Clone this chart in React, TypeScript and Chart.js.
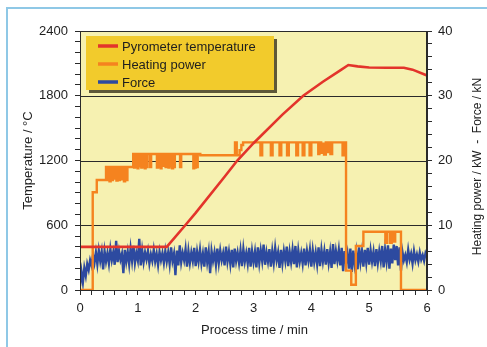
import React, { useEffect, useRef } from 'react';
import { Chart, registerables } from 'chart.js';

Chart.register(...registerables);

// ---- Data ----
const pyroTime = [0, 1.5, 1.82, 2.0, 2.5, 2.72, 3.0, 3.5, 3.86, 4.2, 4.5, 4.64, 4.8, 5.0, 5.3, 5.6, 5.75, 6.0];
const pyroTemp = [400, 400, 600, 715, 1050, 1200, 1360, 1625, 1800, 1930, 2035, 2085, 2072, 2062, 2060, 2060, 2042, 1988];

const heatTime = [
  0, 0.22, 0.29, 0.45, 0.47, 0.49, 0.51, 0.53, 0.55, 0.57, 0.59, 0.61, 0.63, 0.65, 0.67, 0.69,
  0.71, 0.73, 0.76, 0.78, 0.8, 0.82,
  0.92, 0.935, 0.95, 0.965, 0.98, 0.995, 1.01, 1.03, 1.045, 1.06, 1.075, 1.09, 1.105, 1.12, 1.135, 1.15,
  1.165, 1.21, 1.23, 1.33, 1.35, 1.365, 1.38, 1.395, 1.41, 1.425, 1.44, 1.48, 1.5, 1.53, 1.545, 1.56,
  1.575, 1.59, 1.61, 1.625, 1.64, 1.73, 1.75, 1.96, 1.975, 1.99, 2.005, 2.02, 2.035, 2.08,
  2.68, 2.71, 2.76, 2.79, 2.82, 3.12, 3.15, 3.3, 3.33, 3.45, 3.48, 3.58, 3.61, 3.74, 3.77, 3.85,
  3.88, 3.97, 4.0, 4.12, 4.14, 4.17, 4.2, 4.22, 4.25, 4.28, 4.3, 4.33, 4.36, 4.54, 4.57,
  4.6, 4.69, 4.77, 4.9, 5.28, 5.31, 5.36, 5.39, 5.42, 5.45, 5.55, 6.0,
];
const heatPower = [
  0, 15.1, 17.0, 19.0, 17.0, 19.0, 16.8, 19.0, 17.0, 19.0, 17.2, 19.0, 16.9, 19.0, 17.0, 19.0,
  17.1, 19.0, 16.8, 19.0, 17.0, 19.0,
  21.0, 18.9, 21.0, 19.0, 21.0, 18.8, 21.0, 19.1, 21.0, 18.9, 21.0, 19.0, 21.0, 18.8, 21.0, 19.0,
  21.0, 19.0, 21.0, 18.9, 21.0, 19.0, 21.0, 18.8, 21.0, 19.2, 21.0, 19.0, 21.0, 18.9, 21.0, 19.1,
  21.0, 18.8, 21.0, 19.0, 21.0, 19.0, 21.0, 18.8, 21.0, 18.9, 21.0, 19.0, 21.0, 20.8,
  22.8, 20.8, 21.6, 22.4, 22.8, 20.8, 22.8, 20.8, 22.8, 20.8, 22.8, 20.8, 22.8, 20.8, 22.8, 20.8,
  22.8, 20.8, 22.8, 21.0, 22.8, 21.2, 22.6, 20.9, 22.8, 21.3, 22.8, 21.0, 22.8, 20.8, 22.8,
  3.0, 0.8, 6.8, 9.0, 7.3, 9.0, 7.3, 9.0, 7.5, 9.0, 0.0, 0.0,
];

const forceStartMin = 0;
const forceStepMin = 0.025;
const forceKN = [
  0.6, 2.8, 1.2, 3.4, 2.2, 4.0, 3.1, 4.6, 3.8, 5.4, 4.2, 5.8, 4.0, 6.1, 4.5, 5.9, 3.2, 6.0, 4.4, 5.7,
  4.1, 6.3, 4.6, 5.8, 3.9, 7.6, 4.3, 6.0, 4.7, 5.6, 2.6, 6.2, 4.4, 5.9, 4.0, 6.4, 4.5, 6.8, 4.2, 5.7,
  4.6, 7.9, 3.8, 6.1, 4.3, 5.8, 4.7, 6.0, 4.1, 5.5, 4.5, 6.2, 4.4, 5.6, 3.9, 5.9, 4.6, 5.7, 4.2, 6.0,
  4.4, 5.8, 4.0, 6.6, 4.5, 5.6, 2.3, 6.1, 3.8, 6.9, 4.3, 5.7, 4.6, 6.3, 3.6, 6.0, 4.2, 5.8, 4.5, 6.5,
  3.7, 5.9, 4.4, 6.2, 4.1, 5.6, 3.6, 6.6, 4.3, 5.9, 2.6, 6.0, 4.5, 5.8, 3.9, 6.4, 4.2, 6.1, 4.6, 5.7,
  3.8, 6.7, 4.4, 5.9, 4.0, 6.2, 3.5, 6.4, 4.5, 5.8, 4.2, 6.1, 3.7, 6.3, 4.4, 5.7, 4.1, 6.5, 3.6, 6.0,
  4.3, 5.9, 3.5, 6.6, 4.2, 6.1, 4.5, 7.0, 3.9, 5.8, 4.4, 6.3, 3.6, 6.0, 4.2, 6.5, 4.6, 5.8, 3.4, 6.2,
  4.1, 6.0, 4.5, 6.7, 3.7, 5.9, 4.3, 6.2, 4.0, 6.8, 3.5, 6.1, 4.4, 5.7, 4.1, 6.4, 3.8, 6.0, 4.5, 6.2,
  3.6, 6.1, 4.3, 5.8, 4.0, 6.6, 3.7, 6.2, 4.4, 6.0, 3.9, 6.3, 4.2, 5.9, 3.4, 7.1, 4.0, 6.0, 4.5, 6.2,
  3.8, 6.5, 2.9, 6.0, 4.2, 5.6, 3.3, 6.4, 2.8, 6.1, 4.0, 5.8, 3.2, 6.6, 4.3, 6.0, 3.6, 6.2, 4.2, 6.5,
  3.9, 6.1, 4.4, 5.9, 3.7, 6.3, 4.2, 6.0, 4.5, 6.8, 3.5, 6.2, 4.4, 6.9, 3.3, 6.4, 4.1, 7.0, 4.6, 6.8,
  3.8, 6.6, 3.0, 5.9, 4.6, 5.4, 4.3, 6.2, 4.7, 5.6, 4.1, 6.0, 4.6, 5.5, 4.4, 5.8, 4.7, 5.4, 4.5, 5.7,
  5.2,
];

const seriesLabels = ['Pyrometer temperature', 'Heating power', 'Force'];
const seriesColors = ['#e3342b', '#f5831f', '#2d4aa0'];

const xTitle = 'Process time / min';
const yLeftTitle = 'Temperature / °C';
const yRightTitle = 'Heating power / kW  -  Force / kN';

const FONT = '"Liberation Sans", Arial, Helvetica, sans-serif';
const TEXT = '#1e1e1e';

const isMultiple = (v: number, m: number) => Math.abs(v / m - Math.round(v / m)) < 1e-6;

const decorPlugin = {
  id: 'decor',
  beforeDatasetsDraw(chart: any) {
    const { ctx, chartArea: a } = chart;
    ctx.save();
    ctx.fillStyle = '#f6f1b1';
    ctx.fillRect(a.left, a.top, a.right - a.left, a.bottom - a.top);
    const y = chart.scales.y;
    ctx.strokeStyle = '#2a2a2a';
    ctx.lineWidth = 1;
    [600, 1200, 1800].forEach((v) => {
      const py = Math.round(y.getPixelForValue(v)) + 0.5;
      ctx.beginPath();
      ctx.moveTo(a.left, py);
      ctx.lineTo(a.right, py);
      ctx.stroke();
    });
    ctx.restore();
  },
  afterDraw(chart: any) {
    const { ctx, chartArea: a } = chart;
    ctx.save();
    ctx.strokeStyle = '#2a2a2a';
    ctx.lineWidth = 1;
    ctx.strokeRect(a.left + 0.5, a.top + 0.5, a.right - a.left - 1, a.bottom - a.top);

    ctx.fillStyle = TEXT;
    ctx.textAlign = 'center';
    ctx.textBaseline = 'middle';
    const cy = (a.top + a.bottom) / 2;
    ctx.font = `13px ${FONT}`;
    ctx.fillText(xTitle, (a.left + a.right) / 2 + 1, a.bottom + 40);
    ctx.save();
    ctx.translate(a.left - 52, cy);
    ctx.rotate(-Math.PI / 2);
    ctx.fillText(yLeftTitle, 0, 0);
    ctx.restore();
    ctx.save();
    ctx.font = `12px ${FONT}`;
    ctx.translate(a.right + 51, cy + 6);
    ctx.rotate(-Math.PI / 2);
    ctx.fillText(yRightTitle, 0, 0);
    ctx.restore();

    const lx = a.left + 6;
    const ly = a.top + 5;
    const lw = 188;
    const lh = 54;
    ctx.fillStyle = '#5e5838';
    ctx.fillRect(lx + 3, ly + 3, lw, lh);
    ctx.fillStyle = '#f2cb2c';
    ctx.fillRect(lx, ly, lw, lh);
    ctx.font = `13px ${FONT}`;
    ctx.textAlign = 'left';
    ctx.textBaseline = 'middle';
    chart.data.datasets.forEach((ds: any, i: number) => {
      const ry = ly + 10 + i * 18;
      ctx.strokeStyle = ds.borderColor;
      ctx.lineWidth = 3.5;
      ctx.beginPath();
      ctx.moveTo(lx + 12, ry);
      ctx.lineTo(lx + 32, ry);
      ctx.stroke();
      ctx.fillStyle = TEXT;
      ctx.fillText(ds.label, lx + 36, ry + 1);
    });
    ctx.restore();
  },
};

export default function App() {
  const canvasRef = useRef<HTMLCanvasElement | null>(null);

  useEffect(() => {
    const canvas = canvasRef.current;
    if (!canvas) return;
    const pyroData = pyroTime.map((t, i) => ({ x: t, y: pyroTemp[i] }));
    const heatData = heatTime.map((t, i) => ({ x: t, y: heatPower[i] }));
    const forceData = forceKN.map((v, i) => ({ x: forceStartMin + i * forceStepMin, y: v }));

    const tickFont = { family: FONT, size: 13 };

    const chart = new Chart(canvas, {
      type: 'line',
      data: {
        datasets: [
          {
            label: seriesLabels[0],
            data: pyroData,
            borderColor: seriesColors[0],
            borderWidth: 2.6,
            pointRadius: 0,
            tension: 0,
            yAxisID: 'y',
          },
          {
            label: seriesLabels[1],
            data: heatData,
            borderColor: seriesColors[1],
            borderWidth: 2.4,
            pointRadius: 0,
            stepped: true,
            yAxisID: 'y1',
          },
          {
            label: seriesLabels[2],
            data: forceData,
            borderColor: seriesColors[2],
            borderWidth: 2.4,
            pointRadius: 0,
            tension: 0,
            yAxisID: 'y1',
          },
        ],
      },
      options: {
        responsive: false,
        animation: false,
        events: [],
        layout: { padding: { top: 31, left: 0, right: 0, bottom: 0 } },
        plugins: { legend: { display: false }, tooltip: { enabled: false } },
        scales: {
          x: {
            type: 'linear',
            min: 0,
            max: 6,
            afterFit: (s: any) => {
              s.height = 57;
            },
            ticks: {
              stepSize: 0.2,
              autoSkip: false,
              maxRotation: 0,
              padding: 6,
              color: TEXT,
              font: tickFont,
              callback: (v: any) => (isMultiple(Number(v), 1) ? String(Math.round(Number(v))) : ''),
            },
            grid: { drawOnChartArea: false, tickLength: 5, color: '#2a2a2a' },
            border: { color: '#2a2a2a' },
          },
          y: {
            position: 'left',
            min: 0,
            max: 2400,
            afterFit: (s: any) => {
              s.width = 80;
            },
            ticks: {
              stepSize: 100,
              autoSkip: false,
              padding: 7,
              color: TEXT,
              font: tickFont,
              callback: (v: any) => (isMultiple(Number(v), 600) ? String(Math.round(Number(v))) : ''),
            },
            grid: { drawOnChartArea: false, tickLength: 5, color: '#2a2a2a' },
            border: { color: '#2a2a2a' },
          },
          y1: {
            position: 'right',
            min: 0,
            max: 40,
            afterFit: (s: any) => {
              s.width = 60;
            },
            ticks: {
              stepSize: 2,
              autoSkip: false,
              padding: 6,
              color: TEXT,
              font: tickFont,
              callback: (v: any) => (isMultiple(Number(v), 10) ? String(Math.round(Number(v))) : ''),
            },
            grid: { drawOnChartArea: false, tickLength: 5, color: '#2a2a2a' },
            border: { color: '#2a2a2a' },
          },
        },
      },
      plugins: [decorPlugin],
    } as any);

    return () => chart.destroy();
  }, []);

  return (
    <div style={{ position: 'fixed', left: 0, top: 0, width: 487, height: 347, background: '#ffffff', overflow: 'hidden' }}>
      <div
        style={{
          position: 'absolute',
          left: 6,
          top: 7,
          width: 600,
          height: 600,
          borderLeft: '2px solid #8fc8e6',
          borderTop: '2px solid #8fc8e6',
        }}
      />
      <canvas ref={canvasRef} width={487} height={347} style={{ position: 'absolute', left: 0, top: 0, width: 487, height: 347 }} />
    </div>
  );
}
